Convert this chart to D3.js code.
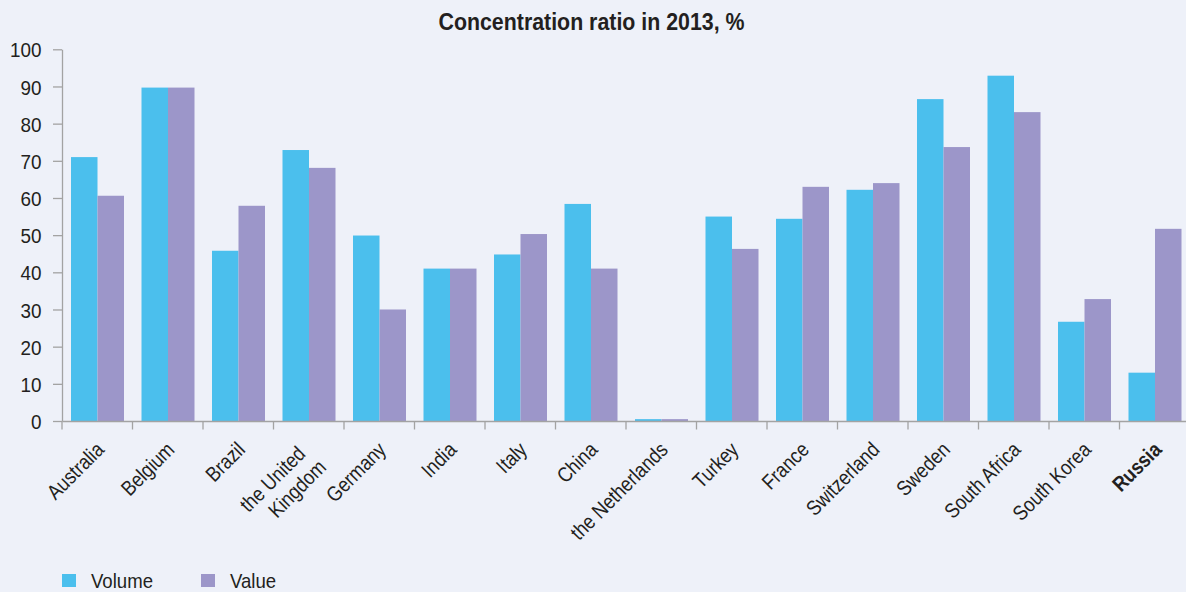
<!DOCTYPE html>
<html>
<head>
<meta charset="utf-8">
<script src="https://cdn.jsdelivr.net/npm/d3@7"></script>
<style>
  html, body { margin: 0; padding: 0; background: #eef1f9; }
  svg { display: block; font-family: "Liberation Sans", Arial, sans-serif; }
</style>
</head>
<body>
<svg id="chart" width="1186" height="592"></svg>
<script>
// Concentration ratio by country, 2013 (%)
const categories = ["Australia", "Belgium", "Brazil", "the United Kingdom", "Germany", "India", "Italy", "China",
  "the Netherlands", "Turkey", "France", "Switzerland", "Sweden", "South Africa", "South Korea", "Russia"];
const volume = [71, 89.7, 45.8, 72.9, 49.9, 41, 44.8, 58.4, 0.5, 55, 54.4, 62.2, 86.6, 92.9, 26.7, 13];
const value  = [60.6, 89.7, 57.9, 68.1, 30, 41, 50.3, 41, 0.5, 46.3, 63, 64, 73.7, 83.1, 32.8, 51.7];
const seriesNames = ["Volume", "Value"];
const yTicks = [0, 10, 20, 30, 40, 50, 60, 70, 80, 90, 100];
const highlighted = "Russia";
const title = "Concentration ratio in 2013, %";

const colors = { Volume: "#4bbfed", Value: "#9c96c9" };
const axisColor = "#a3a3a3";
const textColor = "#231f20";
const squeeze = 0.86; // condensed lettering

const svg = d3.select("#chart");
const plotLeft = 62, plotRight = 1190, plotTop = 49.3, plotBottom = 421;

const x = d3.scaleBand().domain(categories).range([plotLeft, plotRight]);
const xInner = d3.scaleBand().domain(seriesNames).range([9, x.bandwidth() - 8.5]);
const y = d3.scaleLinear().domain([0, 100]).range([plotBottom, plotTop]);

const rows = categories.map((c, i) => ({ category: c, Volume: volume[i], Value: value[i] }));

// Title
svg.append("text")
  .attr("transform", `translate(591.5,30) scale(0.89,1)`)
  .attr("text-anchor", "middle")
  .attr("font-size", 24).attr("font-weight", "bold")
  .attr("fill", textColor)
  .text(title);

// Bars
const groups = svg.append("g").selectAll("g").data(rows).join("g")
  .attr("transform", d => `translate(${x(d.category)},0)`);
groups.selectAll("rect")
  .data(d => seriesNames.map(s => ({ key: s, v: d[s] })))
  .join("rect")
  .attr("x", d => xInner(d.key))
  .attr("width", xInner.bandwidth())
  .attr("y", d => y(d.v))
  .attr("height", d => y(0) - y(d.v))
  .attr("fill", d => colors[d.key]);

// Y axis
const yAxis = svg.append("g")
  .attr("transform", `translate(${plotLeft},0)`)
  .call(d3.axisLeft(y).tickValues(yTicks).tickSize(9).tickSizeOuter(0).tickPadding(11));
yAxis.select(".domain").attr("stroke", axisColor).attr("stroke-width", 1.3);
yAxis.selectAll(".tick line").attr("stroke", axisColor).attr("stroke-width", 1.3);
yAxis.selectAll(".tick text")
  .attr("font-family", "'Liberation Sans', Arial, sans-serif")
  .attr("font-size", 21).attr("fill", textColor)
  .attr("x", -20.5 / 0.9).attr("dy", "0.36em")
  .attr("transform", "scale(0.9,1)");

// X axis: baseline with ticks on the band boundaries
const xAxis = svg.append("g").attr("transform", `translate(0,${plotBottom})`);
xAxis.call(d3.axisBottom(x).tickSize(0).tickFormat(""));
xAxis.select(".domain").attr("stroke", axisColor).attr("stroke-width", 1.3);
const boundaries = categories.map(c => x(c)).concat([x(categories[categories.length - 1]) + x.bandwidth()]);
xAxis.selectAll("line.boundary").data(boundaries).join("line")
  .attr("class", "boundary")
  .attr("x1", d => d).attr("x2", d => d)
  .attr("y1", 0).attr("y2", 8.5)
  .attr("stroke", axisColor).attr("stroke-width", 1.3);

// Category labels, rotated
const labels = svg.append("g").selectAll("text").data(categories).join("text")
  .attr("transform", c => `translate(${x(c) + x.bandwidth() / 2 + 8},${plotBottom + 30}) rotate(-45) scale(${squeeze},1)`)
  .attr("text-anchor", "end")
  .attr("font-size", 21)
  .attr("fill", textColor)
  .attr("font-weight", c => c === highlighted ? "bold" : "normal");
labels.each(function (c) {
  const lines = c === "the United Kingdom" ? ["the United", "Kingdom"] : [c];
  const multi = lines.length > 1;
  d3.select(this).selectAll("tspan").data(lines).join("tspan")
    .attr("x", (d, i) => multi ? (i === 0 ? -10 / squeeze : -5 / squeeze) : 0)
    .attr("dy", (d, i) => i === 0 ? (multi ? "-0.2em" : 0) : "1.15em")
    .text(d => d);
});

// Legend
const legend = svg.append("g");
const legendItems = [{ key: "Volume", x: 62 }, { key: "Value", x: 201 }];
legend.selectAll("rect").data(legendItems).join("rect")
  .attr("x", d => d.x).attr("y", 574).attr("width", 14).attr("height", 13)
  .attr("fill", d => colors[d.key]);
legend.selectAll("text").data(legendItems).join("text")
  .attr("transform", d => `translate(${d.x + 29},588) scale(0.93,1)`)
  .attr("font-size", 20).attr("fill", textColor)
  .text(d => d.key);
</script>
</body>
</html>
